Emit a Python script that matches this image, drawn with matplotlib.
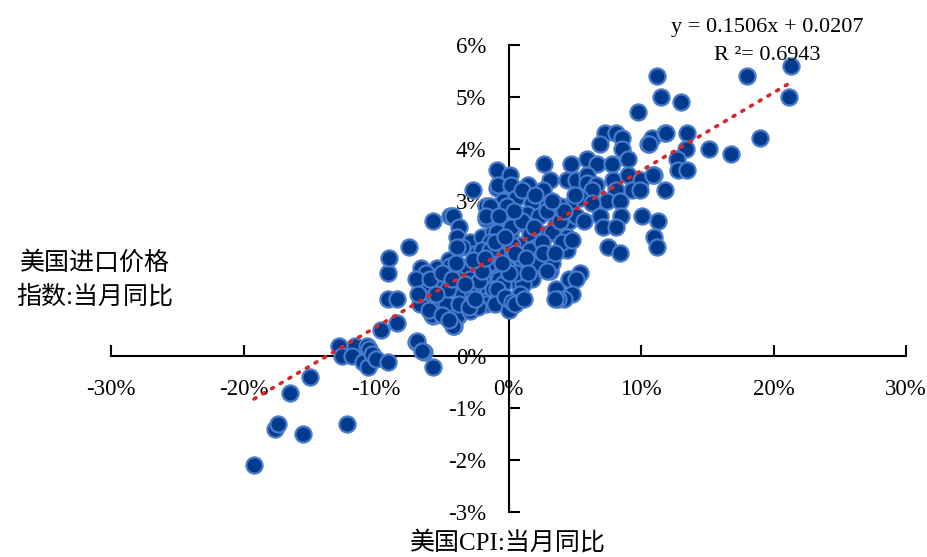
import matplotlib
matplotlib.use("Agg")
import matplotlib.pyplot as plt
from matplotlib.ticker import FuncFormatter, MultipleLocator

plt.rcParams["font.family"] = ["Liberation Serif", "Noto Sans CJK SC"]
plt.rcParams["axes.unicode_minus"] = False

# monthly YoY readings (%), x = import price index, y = CPI
import_price_yoy = [
    -19.2, -17.6, -17.4, -15.5, -12.2, -16.5, -15.0,
    -12.8, -12.6, -11.6, -11.8, -10.7, -10.5, -11.0, -10.6, -10.3, -10.0, -9.1, -9.6, -8.4,
    -9.1, -9.0, -9.1, -7.5, -8.4, -7.0, -6.4, -5.7,
    -2.7, -4.4, -4.2, -5.7, -3.7,
    -6.5, -6.2, -5.4, -6.7, -6.0, -6.3, -5.7, -5.2, -4.8, -5.7, -4.1, -3.8,
    -3.9, -2.9, -2.0, -3.5, -2.4, -1.4, -4.5, -3.2, -2.2, -3.9, -2.7, -1.7, -0.9, -2.2, -3.5,
    -0.7, -0.45, -1.2, -0.9, -1.7, -0.9, -0.15, -0.45, -1.7,
    2.7, 4.75, -0.9, 0.08, -0.8, 0.2, 1.45, 3.1, 4.4, 2.6, 1.36, -0.45, 0.6, -1.4, -0.08,
    1.8, 2.9, 1.36, 2.3, -1.7, -0.7, 0.6, 3.6, 4.6, -0.9, 0.08, 1.6, 2.9, 3.85, -1.4,
    -0.45, 0.8, 2.1, -2.0, -0.9, 0.3, 1.6, 2.9, 4.4, -1.4, -0.15, 1.06, 2.3, 3.1, -2.0,
    -0.7, 0.6, 1.8, -0.45, 0.8, 3.6, 4.6,
    7.25, 8.15, 8.6, 6.9, 8.6, 9.05, 10.8, 10.5, 11.8, 5.9, 6.7, 7.8, 5.1, 5.9, 5.9, 6.6,
    7.85, 9.0, 10.0, 11.0, 11.8, 9.3, 9.9, 8.15, 6.3, 5.4, 7.4, 8.4, 6.3, 4.6, 2.9, 3.85,
    5.1, 5.7, 6.9, 8.5, 10.1, 11.25, 7.1, 8.15, 11.0, 11.2, 4.4, 3.3, 3.3, 7.5, 8.4, 5.4,
    5.1, 4.8, 4.2, 3.7, 3.5,
    11.2, 18.0, 21.3, 21.2, 11.5, 13.0, 9.8, 11.9, 13.5, 10.6, 13.4, 15.1, 16.8, 19.0,
    12.7, 12.8, 13.5, 10.9,
    -6.6, -6.2, -4.45, -6.3, -5.2, -6.7, -5.8, -5.4, -4.7, -3.85, -4.2, -3.5, -2.7, -1.7,
    -2.9, -2.2, -1.2, -2.0, -6.9, -6.5, -2.7, -3.9, -1.4, 0.3,
    -2.9, -1.7, -0.9, 1.06, 0.6, 2.1, 2.9,
    -1.0, 0.0, -0.3, 0.9, -2.3, 0.3, 4.0, 4.8,
    -7.0, -6.8, -5.9, -5.0, -4.6, -4.3, -3.7, -5.5, -4.0, -6.0, -5.0, -4.5, -3.0, -2.5, -3.3,
    -1.0, 0.2, 1.0, 1.9, -0.3, 0.5, 1.3, 2.5, 0.0, -1.8, 1.0, 2.0, 0.4, -0.5, 1.5,
    2.6, 3.5, 3.9, 4.2, 5.0, 3.3, 0.5, 1.2,
]
cpi_yoy = [
    -2.1, -1.4, -1.3, -1.5, -1.3, -0.7, -0.4,
    0.2, 0.0, 0.2, 0.0, 0.2, 0.15, -0.1, -0.2, 0.05, -0.05, -0.1, 0.5, 0.65,
    1.6, 1.9, 1.1, 2.1, 1.1, 0.27, 0.08, -0.2,
    3.2, 2.7, 2.7, 2.6, 2.5,
    1.65, 1.45, 1.7, 1.4, 1.25, 1.2, 1.06, 0.97, 0.97, 0.77, 0.58, 0.77,
    2.3, 2.2, 2.3, 2.1, 2.0, 2.1, 1.85, 1.65, 1.7, 1.5, 1.45, 1.5, 1.26, 1.2, 1.26,
    1.7, 2.0, 2.4, 2.75, 2.9, 3.25, 3.0, 2.55, 2.65,
    3.7, 3.7, 3.6, 3.5, 3.3, 3.3, 3.3, 3.4, 3.4, 3.2, 3.1, 3.0, 3.05, 2.9, 2.9,
    2.95, 2.9, 2.75, 2.7, 2.7, 2.7, 2.55, 2.55, 2.6, 2.4, 2.35, 2.35, 2.35, 2.3, 2.2,
    2.15, 2.15, 2.1, 2.05, 2.0, 1.9, 2.05, 1.85, 2.05, 1.8, 1.7, 1.8, 1.7, 1.65, 1.5,
    1.5, 1.5, 1.5, 1.4, 1.4, 1.3, 1.5,
    4.3, 4.3, 4.2, 4.1, 4.0, 3.8, 4.2, 4.1, 4.3, 3.8, 3.7, 3.7, 3.4, 3.5, 3.35, 3.3,
    3.4, 3.5, 3.4, 3.5, 3.2, 3.2, 3.2, 3.2, 3.2, 3.05, 3.0, 3.0, 2.95, 2.9, 2.8, 2.9,
    2.7, 2.6, 2.7, 2.7, 2.7, 2.6, 2.5, 2.5, 2.3, 2.1, 2.3, 2.4, 1.8, 2.1, 2.0, 1.6,
    1.5, 1.2, 1.1, 1.1, 1.1,
    5.4, 5.4, 5.6, 5.0, 5.0, 4.9, 4.7, 4.3, 4.3, 4.1, 4.0, 4.0, 3.9, 4.2,
    3.8, 3.6, 3.6, 3.5,
    1.7, 1.6, 1.75, 1.4, 1.4, 1.0, 0.8, 1.0, 1.0, 0.77, 0.58, 1.2, 1.2, 1.06,
    1.5, 1.45, 1.3, 1.65, 0.3, 0.1, 1.85, 2.1, 2.05, 2.15,
    0.87, 1.0, 1.3, 1.4, 1.6, 1.8, 1.65,
    1.0, 0.9, 1.15, 1.2, 0.95, 1.05, 2.2, 2.25,
    1.5, 1.2, 1.5, 1.6, 1.3, 1.5, 1.0, 1.2, 1.8, 0.9, 0.8, 0.7, 0.95, 1.1, 1.4,
    2.2, 2.5, 2.6, 2.5, 2.3, 2.0, 1.9, 2.2, 1.6, 1.9, 3.2, 3.1, 2.8, 1.8, 1.6,
    2.0, 2.0, 2.6, 2.8, 3.1, 3.0, 1.0, 1.1,
]

# linear trend reported on the chart (fractions)
slope, intercept, r2 = 0.1506, 0.0207, 0.6943

fig = plt.figure(figsize=(9.27, 5.57), dpi=100)
ax = fig.add_axes([111 / 927, 45 / 557, 795 / 927, 467 / 557])

ax.scatter(import_price_yoy, cpi_yoy, s=135, color="#003A8C",
           edgecolors="#4A7BCB", linewidths=1.6, zorder=3)

x0, x1 = min(import_price_yoy), max(import_price_yoy)
ax.plot([x0, x1], [(slope * x0 / 100 + intercept) * 100, (slope * x1 / 100 + intercept) * 100],
        color="#D7262C", lw=2.6, ls=(0, (0.6, 2.2)), dash_capstyle="round", zorder=4)

ax.set_xlim(-30, 30)
ax.set_ylim(-3, 6)
ax.xaxis.set_major_locator(MultipleLocator(10))
ax.yaxis.set_major_locator(MultipleLocator(1))
pct = FuncFormatter(lambda v, _: f"{v:.0f}%")
ax.xaxis.set_major_formatter(pct)
ax.yaxis.set_major_formatter(pct)

for side in ("top", "right"):
    ax.spines[side].set_visible(False)
ax.spines["left"].set_position(("data", 0))
ax.spines["bottom"].set_position(("data", 0))
ax.spines["left"].set_linewidth(1.5)
ax.spines["bottom"].set_linewidth(1.5)
ax.tick_params(direction="in", length=8, width=1.5, pad=16, labelsize=16.5)

ax.text(19.5, 6.33, f"y = {slope}x + {intercept}", ha="center", va="center",
        fontsize=16, clip_on=False)
ax.text(19.5, 5.8, f"R ²= {r2}", ha="center", va="center", fontsize=16, clip_on=False)

fig.text(95 / 927, 1 - 280 / 557, "美国进口价格\n指数:当月同比", ha="center", va="center",
         fontsize=18, linespacing=1.55)
fig.text(508 / 927, 1 - 543 / 557, "美国CPI:当月同比", ha="center", va="center", fontsize=18)

fig.savefig("out.png", dpi=100)
